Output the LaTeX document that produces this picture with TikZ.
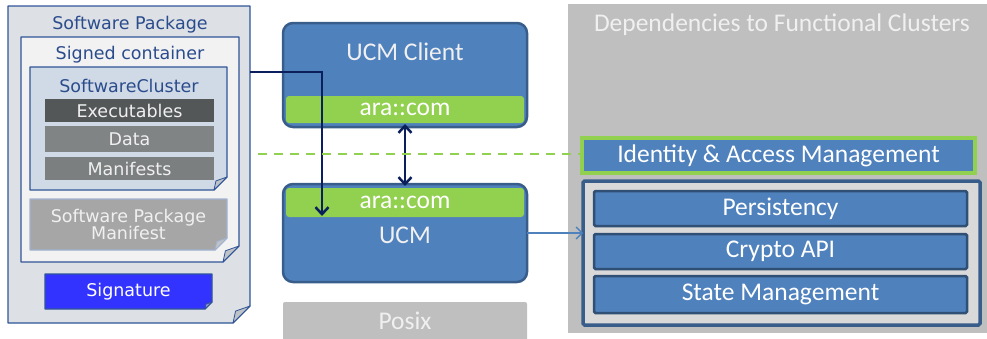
\documentclass[tikz,border=0pt]{standalone}
\usepackage{fontspec}
\setmainfont{Carlito}
\newfontfamily\verd{DejaVu Sans}
\usetikzlibrary{arrows.meta,backgrounds,calc}
\definecolor{docblue}{HTML}{2F5597}
\definecolor{doctext}{HTML}{2B4C8C}
\definecolor{pkgfill}{HTML}{DDE1E6}
\definecolor{contfill}{HTML}{F2F2F2}
\definecolor{clusterfill}{HTML}{D0DAE6}
\definecolor{exefill}{HTML}{545758}
\definecolor{datafill}{HTML}{808485}
\definecolor{manfill}{HTML}{7B7F80}
\definecolor{spmfill}{HTML}{A6A6A6}
\definecolor{sigfill}{HTML}{3333FF}
\definecolor{foldgray}{HTML}{BFC3C8}
\definecolor{ucmblue}{HTML}{4F81BD}
\definecolor{ucmborder}{HTML}{385D8A}
\definecolor{aragreen}{HTML}{92D050}
\definecolor{posixgray}{HTML}{BFBFBF}
\definecolor{lighttext}{HTML}{F0F0F0}
\definecolor{groupfill}{HTML}{D9D9D9}
\definecolor{navy}{HTML}{0B1F5C}
\newcommand\docfold[5]{% name, fold, fill, border, foldfill
  \begin{pgfonlayer}{background}
  \draw[draw=#4, fill=#3, line width=1.3pt, line join=round]
    (#1.north west) -- (#1.north east) -- ([yshift=#2pt]#1.south east)
    -- ([xshift=-#2pt]#1.south east) -- (#1.south west) -- cycle;
  \draw[draw=#4, fill=#5, line width=0.8pt, line join=round]
    ([yshift=#2pt]#1.south east) -- ([xshift=-#2pt]#1.south east)
    -- ([xshift=-0.85*#2pt, yshift=0.7*#2pt]#1.south east) -- cycle;
  \end{pgfonlayer}}
\tikzset{
  area/.style={rectangle, inner sep=0pt, outer sep=0pt, anchor=north west},
  leftfont/.style={font=\verd\fontsize{17.5}{19}\selectfont},
  bigfont/.style={font=\fontsize{25.5}{27}\selectfont},
  doctitle/.style={inner sep=0pt, text=doctext, leftfont},
  graybar/.style={area, leftfont, text=lighttext},
  ucmbox/.style={area, fill=ucmblue, draw=ucmborder, line width=2.5pt, rounded corners=10pt},
  arabar/.style={area, fill=aragreen, rounded corners=3pt, text=white, bigfont},
  fcbox/.style={area, fill=ucmblue, draw=ucmborder!85!black, line width=2.5pt, rounded corners=1.5pt, text=white, bigfont},
  navytip/.style={Straight Barb[length=7pt,width=13pt,line width=2.5pt]},
  navyarrow/.style={draw=navy, line width=2.5pt, -{Straight Barb[length=7pt,width=13pt,line width=2.5pt]}},
}
\begin{document}
\begin{tikzpicture}[x=1pt,y=-1pt]
\useasboundingbox (0,0) rectangle (987,338);
% ---------- left: software package ----------
\node[area, minimum width=242pt, minimum height=317pt] (pkg) at (8,6) {};
\docfold{pkg}{17}{pkgfill}{docblue}{foldgray}
\node[doctitle] (pkgtitle) at (130,25) {Software Package};
\node[area, minimum width=218pt, minimum height=225pt] (cont) at (21,37) {};
\docfold{cont}{16}{contfill}{docblue}{foldgray}
\node[doctitle] (conttitle) at (130,55) {Signed container};
\node[area, minimum width=197pt, minimum height=123pt] (cluster) at (30,67) {};
\docfold{cluster}{13}{clusterfill}{docblue}{foldgray}
\node[doctitle] (clustertitle) at (129,86) {SoftwareCluster};
\node[graybar, fill=exefill, minimum width=169pt, minimum height=23pt] (exe) at (45,99) {Executables};
\node[graybar, fill=datafill, minimum width=169pt, minimum height=26pt] (data) at (45,126) {Data};
\node[graybar, fill=manfill, minimum width=169pt, minimum height=23pt] (man) at (45,157) {Manifests};
\node[graybar, minimum width=197pt, minimum height=51pt, align=center] (spm) at (30,199) {Software Package\\[-2pt]Manifest};
\docfold{spm}{12}{spmfill}{docblue!45!white}{foldgray}
\node[graybar, text=white, minimum width=167pt, minimum height=35pt] (sig) at (45,274) {Signature};
\docfold{sig}{7}{sigfill}{docblue}{foldgray!70!sigfill}
% ---------- middle: UCM ----------
\node[ucmbox, minimum width=244pt, minimum height=104pt] (client) at (283,23) {};
\node[text=lighttext, bigfont, inner sep=0pt] (clienttitle) at (405,52) {UCM Client};
\node[arabar, minimum width=238pt, minimum height=27pt] (clientcom) at (286,96) {ara::com};
\node[ucmbox, minimum width=244pt, minimum height=98pt] (ucm) at (283,184) {};
\node[arabar, minimum width=238pt, minimum height=29pt] (ucmcom) at (286,188) {ara::com};
\node[text=lighttext, bigfont, inner sep=0pt] (ucmtitle) at (405,235) {UCM};
\node[area, fill=posixgray, rounded corners=2pt, minimum width=244pt, minimum height=45pt] (posix) at (283,302) {};
\node[text=lighttext, bigfont, inner sep=0pt] (posixtitle) at (405,321) {Posix};
% ---------- right: dependencies ----------
\node[area, fill=posixgray, minimum width=419pt, minimum height=329pt] (deps) at (568,4) {};
\node[text=lighttext, bigfont, inner sep=0pt] (depstitle) at (782,25) {Dependencies to Functional Clusters};
\node[area, fill=ucmblue, draw=aragreen, line width=3.5pt, minimum width=393pt, minimum height=35pt, text=white, bigfont] (iam) at (582,138) {Identity \& Access Management};
\node[area, fill=groupfill, draw=ucmborder, line width=3.5pt, rounded corners=1.5pt, minimum width=397pt, minimum height=144pt] (group) at (583,181) {};
\node[fcbox, minimum width=373pt, minimum height=35pt] (pers) at (594,191) {Persistency};
\node[fcbox, minimum width=373pt, minimum height=35pt] (crypto) at (594,234) {Crypto API};
\node[fcbox, minimum width=373pt, minimum height=37pt] (state) at (594,276) {State Management};
% ---------- connectors ----------
\coordinate (drop) at (322,216);
\draw[navyarrow] ([yshift=-66pt]pkg.north east) -| (drop);
\draw[draw=navy, line width=2.5pt, {Straight Barb[length=7pt,width=13pt,line width=2.5pt]}-{Straight Barb[length=7pt,width=13pt,line width=2.5pt]}] ([yshift=-1pt]clientcom.south) -- ([yshift=2pt]ucmcom.north);
\coordinate (dashstart) at (258,154);
\draw[draw=aragreen, line width=2.4pt, dash pattern=on 9pt off 7pt] (dashstart) -- (dashstart -| iam.west);
\draw[draw=ucmblue, line width=1.3pt, -{Straight Barb[length=6pt,width=12pt,line width=1.3pt]}] (ucm.east) -- (ucm.east -| group.west);
\end{tikzpicture}
\end{document}
